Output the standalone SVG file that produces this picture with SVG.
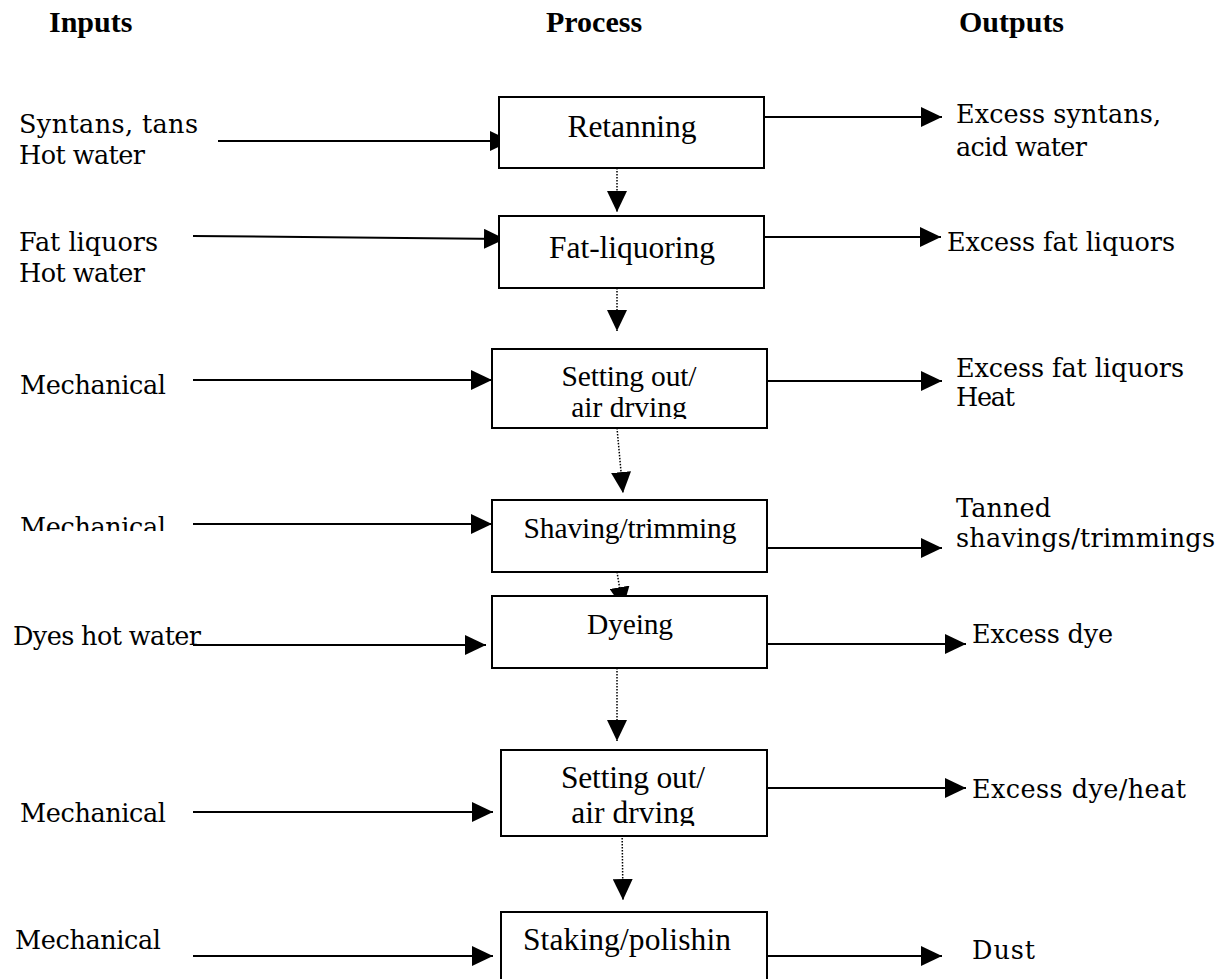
<svg xmlns="http://www.w3.org/2000/svg" width="1227" height="979" viewBox="0 0 1227 979">
<style>
.hdr{font-family:"Liberation Serif","Times New Roman",serif;font-weight:bold;font-size:30px;fill:#000}
.box{fill:#fff;stroke:#000;stroke-width:2}
.bt{font-family:"Liberation Serif","Times New Roman",serif;font-size:29.5px;fill:#000;text-anchor:middle}
.big{font-size:31.5px}
.st{font-family:"DejaVu Serif",serif;font-size:25.5px;fill:#000}
.ln{stroke:#000;stroke-width:2;fill:none;marker-end:url(#ah)}
.dl{stroke:#000;stroke-width:1.5;fill:none;stroke-dasharray:1.5 1.5;marker-end:url(#ah)}
</style>
<defs>
<marker id="ah" markerUnits="userSpaceOnUse" markerWidth="22" markerHeight="20" refX="21" refY="10" orient="auto" viewBox="0 0 22 20">
<path d="M0,0 L21,10 L0,20 z" fill="#000"/>
</marker>
<clipPath id="c3"><rect x="493" y="350" width="273" height="69"/></clipPath>
<clipPath id="c6"><rect x="502" y="751" width="264" height="75"/></clipPath>
<clipPath id="cHeat"><rect x="940" y="380" width="287" height="27"/></clipPath>
<clipPath id="cMech4"><rect x="0" y="505" width="200" height="26"/></clipPath>
</defs>
<rect width="1227" height="979" fill="#fff"/>
<g id="headers">
<text class="hdr" x="49" y="32">Inputs</text>
<text class="hdr" x="546" y="32">Process</text>
<text class="hdr" x="959" y="32">Outputs</text>
</g>
<g id="connectors">
<line class="ln" x1="218" y1="141" x2="511" y2="141"/>
<line class="ln" x1="193" y1="236" x2="505" y2="239"/>
<line class="ln" x1="193" y1="380" x2="492" y2="380"/>
<line class="ln" x1="193" y1="524" x2="492" y2="524"/>
<line class="ln" x1="193" y1="645" x2="486" y2="645"/>
<line class="ln" x1="193" y1="812" x2="493" y2="812"/>
<line class="ln" x1="193" y1="956" x2="493" y2="956"/>
<line class="ln" x1="764" y1="117" x2="942" y2="117"/>
<line class="ln" x1="764" y1="237" x2="941" y2="237"/>
<line class="ln" x1="767" y1="381" x2="942" y2="381"/>
<line class="ln" x1="767" y1="548" x2="942" y2="548"/>
<line class="ln" x1="767" y1="644" x2="966" y2="644"/>
<line class="ln" x1="767" y1="788" x2="966" y2="788"/>
<line class="ln" x1="767" y1="956" x2="942" y2="956"/>
<path class="dl" d="M617,168 L617,212"/>
<path class="dl" d="M617,288 L617,331"/>
<path class="dl" d="M617,428 L623,493"/>
<path class="dl" d="M617,572 L623,608"/>
<path class="dl" d="M617,668 L617,741"/>
<path class="dl" d="M622,826 L623,900"/>
</g>
<g id="n1"><rect class="box" x="499" y="97" width="265" height="71"/><text class="bt big" x="632" y="137" textLength="129">Retanning</text></g>
<g id="n2"><rect class="box" x="499" y="216" width="265" height="72"/><text class="bt big" x="632" y="258">Fat-liquoring</text></g>
<g id="n3"><rect class="box" x="492" y="349" width="275" height="79"/><text class="bt" x="629" y="386" textLength="135">Setting out/</text><text class="bt" x="629" y="417" clip-path="url(#c3)">air drving</text></g>
<g id="n4"><rect class="box" x="492" y="500" width="275" height="72"/><text class="bt" x="630" y="538" textLength="213">Shaving/trimming</text></g>
<g id="n5"><rect class="box" x="492" y="596" width="275" height="72"/><text class="bt" x="630" y="634" textLength="86">Dyeing</text></g>
<g id="n6"><rect class="box" x="501" y="750" width="266" height="86"/><text class="bt big" x="633" y="788" textLength="144">Setting out/</text><text class="bt big" x="633" y="823" clip-path="url(#c6)">air drving</text></g>
<g id="n7"><rect class="box" x="501" y="912" width="266" height="80"/><text class="bt big" x="627" y="950" textLength="208">Staking/polishin</text></g>
<g id="inputs">
<text class="st" x="19" y="133" textLength="179">Syntans, tans</text>
<text class="st" x="19" y="164" textLength="126">Hot water</text>
<text class="st" x="19" y="251" textLength="139">Fat liquors</text>
<text class="st" x="19" y="282" textLength="126">Hot water</text>
<text class="st" x="20" y="394" textLength="146">Mechanical</text>
<text class="st" x="20" y="536" textLength="146" clip-path="url(#cMech4)">Mechanical</text>
<text class="st" x="13" y="645" textLength="188">Dyes hot water</text>
<text class="st" x="20" y="822" textLength="146">Mechanical</text>
<text class="st" x="15" y="949" textLength="146">Mechanical</text>
</g>
<g id="outputs">
<text class="st" x="956" y="123" textLength="205">Excess syntans,</text>
<text class="st" x="956" y="156" textLength="131">acid water</text>
<text class="st" x="947" y="251" textLength="228">Excess fat liquors</text>
<text class="st" x="956" y="377" textLength="228">Excess fat liquors</text>
<text class="st" x="956" y="406" textLength="59" clip-path="url(#cHeat)">Heat</text>
<text class="st" x="956" y="517" textLength="95">Tanned</text>
<text class="st" x="956" y="547" textLength="259">shavings/trimmings</text>
<text class="st" x="972" y="643" textLength="141">Excess dye</text>
<text class="st" x="972" y="798" textLength="214">Excess dye/heat</text>
<text class="st" x="972" y="959" textLength="63">Dust</text>
</g>
</svg>
